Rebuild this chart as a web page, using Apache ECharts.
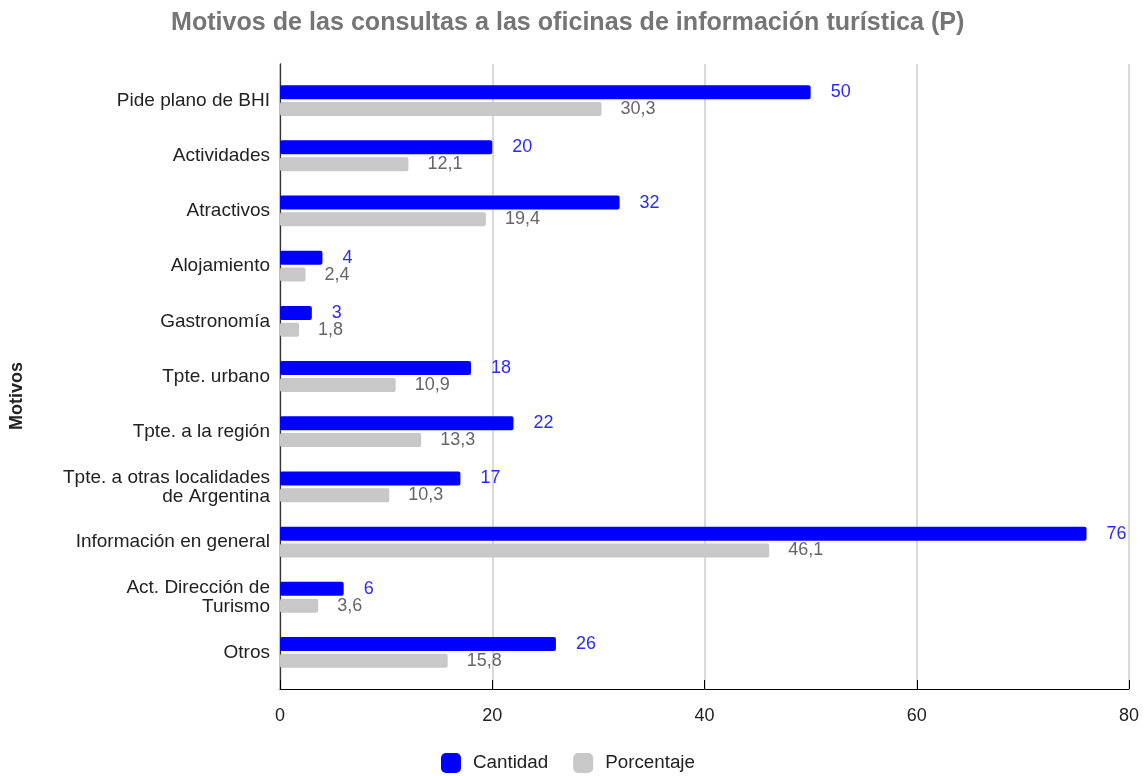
<!DOCTYPE html>
<html>
<head>
<meta charset="utf-8">
<script src="https://cdn.jsdelivr.net/npm/echarts@6/dist/echarts.min.js"></script>
<style>html,body{margin:0;padding:0;background:#fff}#c{width:1145px;height:776px}</style>
</head>
<body>
<div id="c"></div>
<script>
const categories = ["Pide plano de BHI","Actividades","Atractivos","Alojamiento","Gastronomía","Tpte. urbano","Tpte. a la región","Tpte. a otras localidades\nde Argentina","Información en general","Act. Dirección de\nTurismo","Otros"];
const cantidad = [50,20,32,4,3,18,22,17,76,6,26];
const porcentaje = [30.3,12.1,19.4,2.4,1.8,10.9,13.3,10.3,46.1,3.6,15.8];
const xTicks = [0,20,40,60,80];

const chart = echarts.init(document.getElementById('c'));
const font = '"Liberation Sans", Arial, sans-serif';
const fmt = p => String(p.value).replace('.', ',');
chart.setOption({
  animation:false,
  textStyle:{fontFamily:font},
  title:{text:'Motivos de las consultas a las oficinas de información turística (P)',left:171,top:11,padding:0,
    textStyle:{fontSize:25.1,fontWeight:'bold',color:'#757575',fontFamily:font}},
  legend:{bottom:3,left:441,padding:0,itemWidth:20,itemHeight:20,itemGap:25,icon:'roundRect',
    textStyle:{fontSize:18.8,color:'#222',fontFamily:font,padding:[0,0,0,7]},data:['Cantidad','Porcentaje']},
  graphic:[{type:'text',x:17,y:396,rotation:Math.PI/2,
    style:{text:'Motivos',font:'bold 18px "Liberation Sans", Arial, sans-serif',fill:'#222',textAlign:'center',textVerticalAlign:'middle'}}],
  grid:[
    {left:280,right:16,top:64,bottom:87},
    {left:280,right:16,top:73,bottom:96}
  ],
  xAxis:[
    {type:'value',gridIndex:0,min:0,max:80,interval:20,
      axisLine:{show:true,lineStyle:{color:'#000',width:1}},
      axisTick:{show:true,inside:true,length:9,lineStyle:{color:'#000'}},
      axisLabel:{fontSize:18,color:'#222',margin:18,fontFamily:font,formatter:v=>xTicks.includes(v)?String(v):''},
      splitLine:{show:true,lineStyle:{color:'#cccccc',width:1.5}}},
    {type:'value',gridIndex:1,min:0,max:80,show:false,splitLine:{show:false}}
  ],
  yAxis:[
    {type:'value',gridIndex:0,min:0,max:1,axisLabel:{show:false},splitLine:{show:false},axisTick:{show:false},
      axisLine:{show:true,lineStyle:{color:'#333',width:1.3}}},
    {type:'category',gridIndex:1,inverse:true,data:categories,
      axisLine:{show:false},axisTick:{show:false},
      axisLabel:{fontSize:19,color:'#222',margin:10,lineHeight:19,align:'right',fontFamily:font}}
  ],
  series:[
    {name:'Cantidad',type:'bar',xAxisIndex:1,yAxisIndex:1,data:cantidad,barWidth:14,barGap:'20%',
      itemStyle:{color:'#0000ff',borderRadius:2},
      label:{show:true,position:'right',distance:20,fontSize:18,color:'#2a2aff',fontFamily:font,formatter:fmt}},
    {name:'Porcentaje',type:'bar',xAxisIndex:1,yAxisIndex:1,data:porcentaje,barWidth:14,
      itemStyle:{color:'#c8c8c8',borderRadius:2},
      label:{show:true,position:'right',distance:19,fontSize:18,color:'#666',fontFamily:font,formatter:fmt}}
  ]
});
</script>
</body>
</html>
